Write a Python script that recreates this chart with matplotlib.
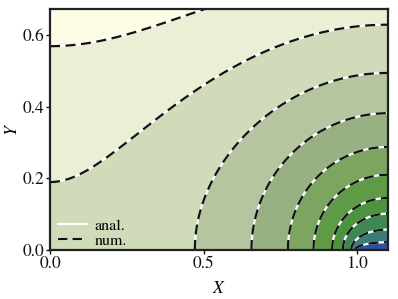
import numpy as np
import matplotlib
matplotlib.use("Agg")
import matplotlib.pyplot as plt
from matplotlib.lines import Line2D

# Geometry of the problem
X_MAX = 1.1          # right edge = symmetry line through the plate centre
Y_MAX = 0.674
PLATE_HALF = 0.105   # plate occupies [X_MAX - PLATE_HALF, X_MAX] on y = 0
PERIOD = 2 * X_MAX   # mirror symmetry at x = 0 and x = X_MAX

# Contour crossings
BOTTOM_X = [0.993, 0.977, 0.954, 0.925, 0.857, 0.774, 0.656, 0.469]   # on y = 0
RIGHT_Y = [0.023, 0.051, 0.103, 0.154, 0.210, 0.288, 0.383, 0.494]   # on x = X_MAX
LEFT_Y = [0.19, 0.57]                                                  # on x = 0

# Filled bands, from the plate (lowest) outwards
COLORS = ["#2f4f9e", "#3b7b78", "#3f8853", "#4c9340", "#5f9b47", "#7ca660",
          "#98b183", "#b4c59f", "#d0dbba", "#eaefd5", "#fdfde6"]


def field(x, y):
    """Potential around a periodic row of conducting plates on y = 0 (u = 0 on the plate)."""
    z = (x - X_MAX) + 1j * y
    zeta = np.sin(np.pi * z / PERIOD) / np.sin(np.pi * PLATE_HALF / PERIOD)
    return np.arccosh((np.abs(zeta - 1) + np.abs(zeta + 1)) / 2)


levels = [0.5 * (field(bx, 0.0) + field(X_MAX, ry)) for bx, ry in zip(BOTTOM_X, RIGHT_Y)]
levels += [field(0.0, ly) for ly in LEFT_Y]
levels = list(np.sort(levels))

xs = np.linspace(0, X_MAX, 700)
ys = np.linspace(0, Y_MAX, 500)
XX, YY = np.meshgrid(xs, ys)
U = field(XX, YY)

plt.rcParams["font.family"] = "STIXGeneral"
plt.rcParams["mathtext.fontset"] = "stix"

fig = plt.figure(figsize=(3.98, 2.99), dpi=100)
ax = fig.add_axes([0.1256, 0.1639, 0.8494, 0.8060])

ax.contourf(XX, YY, U, levels=[U.min() - 1] + levels + [U.max() + 1], colors=COLORS)
ax.contour(XX, YY, U, levels=levels, colors="white", linewidths=1.6, linestyles="solid")
ax.contour(XX, YY, U, levels=levels, colors="#111111", linewidths=1.6,
           linestyles=[(0, (4.5, 2.5))])

ax.set_xlim(0, X_MAX)
ax.set_ylim(0, Y_MAX)
ax.set_xticks([0.0, 0.5, 1.0])
ax.set_yticks([0.0, 0.2, 0.4, 0.6])
ax.tick_params(direction="out", length=3, width=1, pad=1, labelsize=12.5, colors="#111111")
for s in ax.spines.values():
    s.set_linewidth(1.6)
    s.set_color("#222222")

ax.set_xlabel("$X$", fontsize=12.5, labelpad=7)
ax.set_ylabel("$Y$", fontsize=12.5, labelpad=1)

handles = [Line2D([], [], color="white", lw=1.5, ls="solid"),
           Line2D([], [], color="#111111", lw=1.5, ls=(0, (4.5, 2.5)))]
ax.legend(handles, ["anal.", "num."], loc="lower left", bbox_to_anchor=(0.0, -0.025),
          frameon=False, fontsize=11.5, handlelength=1.8, handletextpad=0.5,
          labelspacing=0.05, borderaxespad=0.1)

fig.savefig("out.png", dpi=100)
